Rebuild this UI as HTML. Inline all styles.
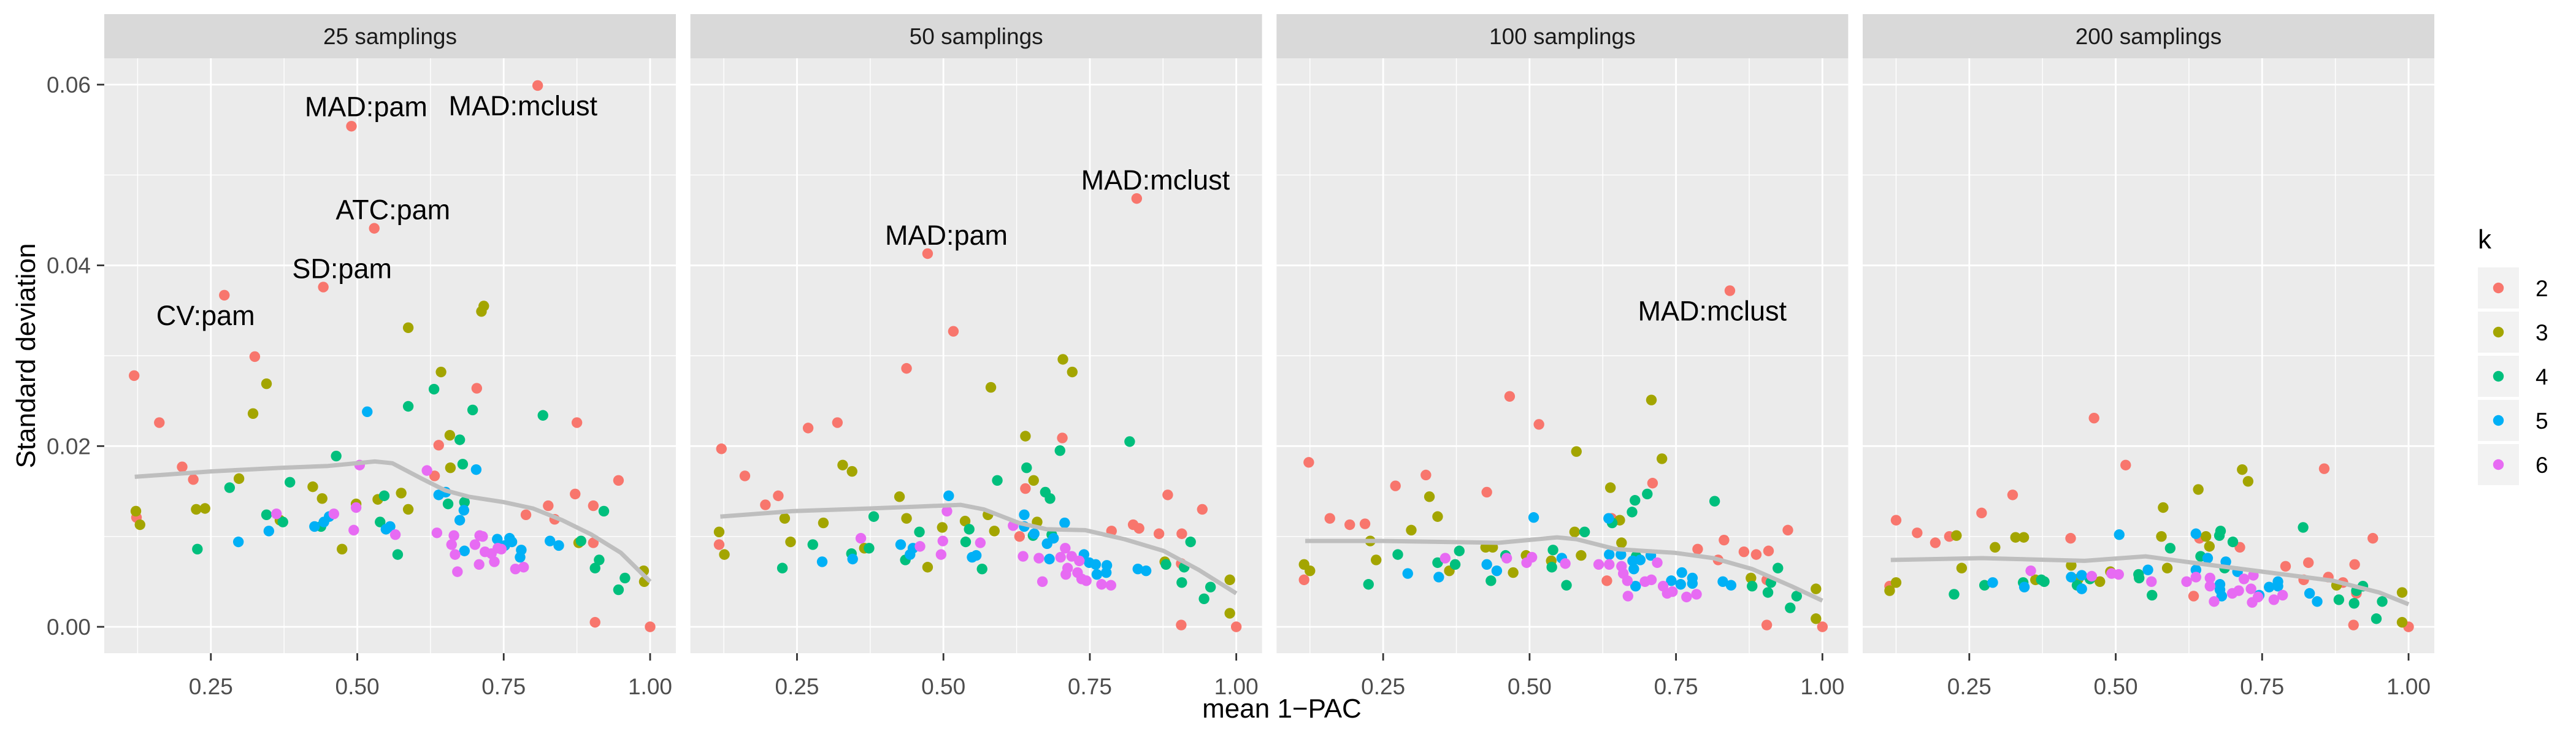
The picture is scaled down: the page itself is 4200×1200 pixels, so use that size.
<!DOCTYPE html>
<html><head><meta charset="utf-8"><title>Standard deviation vs mean 1-PAC</title>
<style>html,body{margin:0;padding:0;background:#fff}svg{display:block;font-family:"Liberation Sans",Arial,sans-serif}</style>
</head><body>
<svg id="chart" width="4200" height="1200" viewBox="0 0 4200 1200" xmlns="http://www.w3.org/2000/svg"></svg>
<script>
// ---- data (y values in units of 0.001) ----
const panelTitles = ["25 samplings","50 samplings","100 samplings","200 samplings"];
const kLevels = ["2","3","4","5","6"];
const kColors = ["#F8766D","#A3A500","#00BF7D","#00B0F6","#E76BF3"];
const xTicks = [0.25,0.5,0.75,1.0];
const xTickLabels = ["0.25","0.50","0.75","1.00"];
const yTicks = [0,0.02,0.04,0.06];
const yTickLabels = ["0.00","0.02","0.04","0.06"];

// panel 1: 25 samplings
const p1k2x=[0.119,0.162,0.201,0.220,0.273,0.325,0.442,0.490,0.529,0.808,0.639,0.632,0.704,0.875,0.788,0.826,0.837,0.872,0.903,0.903,0.946,0.906,1.0,0.123];
const p1k2y=[27.8,22.6,17.7,16.3,36.7,29.9,37.6,55.4,44.1,59.9,20.1,16.7,26.4,22.6,12.4,13.4,11.9,14.7,13.4,9.3,16.2,0.5,0,12.1];
const p1k3x=[0.122,0.129,0.225,0.240,0.298,0.322,0.345,0.368,0.424,0.440,0.474,0.498,0.535,0.575,0.587,0.587,0.643,0.658,0.659,0.712,0.716,0.878,0.989,0.990];
const p1k3y=[12.8,11.3,13.0,13.1,16.4,23.6,26.9,11.8,15.5,14.2,8.6,13.6,14.1,14.8,13.0,33.1,28.2,21.2,17.6,34.9,35.5,9.3,6.2,5.0];
const p1k4x=[0.227,0.282,0.345,0.373,0.385,0.438,0.464,0.539,0.546,0.569,0.587,0.631,0.655,0.675,0.680,0.683,0.697,0.817,0.882,0.906,0.913,0.921,0.946,0.957];
const p1k4y=[8.6,15.4,12.4,11.6,16.0,11.1,18.9,11.6,14.5,8.0,24.4,26.3,13.6,20.7,18.0,13.8,24.0,23.4,9.5,6.5,7.4,12.8,4.1,5.4];
const p1k5x=[0.297,0.349,0.427,0.443,0.452,0.517,0.549,0.556,0.639,0.651,0.675,0.682,0.683,0.703,0.739,0.752,0.760,0.764,0.780,0.778,0.829,0.844];
const p1k5y=[9.4,10.6,11.1,11.6,12.2,23.8,10.8,11.1,14.6,14.9,11.8,12.9,8.4,17.4,9.7,9.0,9.8,9.4,8.5,7.7,9.5,9.0];
const p1k6x=[0.362,0.460,0.494,0.498,0.504,0.565,0.619,0.636,0.661,0.665,0.667,0.671,0.701,0.708,0.709,0.714,0.718,0.729,0.734,0.740,0.746,0.770,0.784];
const p1k6y=[12.5,12.5,10.7,13.2,17.9,10.2,17.3,10.4,9.1,10.1,8.0,6.1,9.1,6.9,10.1,10.0,8.3,8.1,7.2,8.7,8.6,6.4,6.6];
const p1smoothX=[0.12,0.25,0.37,0.45,0.53,0.56,0.61,0.65,0.69,0.75,0.80,0.85,0.90,0.95,1.0];
const p1smoothY=[16.6,17.2,17.6,17.8,18.3,18.1,16.4,15.1,14.4,13.8,13.1,11.8,10.2,8.2,5.0];
const p1labels=["MAD:pam","MAD:mclust","ATC:pam","SD:pam","CV:pam"];
const p1labelX=[0.515,0.783,0.561,0.474,0.241];
const p1labelY=[56.5,56.6,45.1,38.6,33.4];

// panel 2: 50 samplings
const p2k2x=[0.121,0.161,0.196,0.218,0.269,0.319,0.437,0.473,0.517,0.830,0.640,0.630,0.703,0.787,0.824,0.834,0.868,0.883,0.907,0.942,0.906,0.906,1.0,0.117];
const p2k2y=[19.7,16.7,13.5,14.5,22.0,22.6,28.6,41.3,32.7,47.4,15.3,10.0,20.9,10.6,11.3,10.9,10.3,14.6,10.3,13.0,7.0,0.2,0,9.1];
const p2k3x=[0.117,0.126,0.229,0.239,0.295,0.328,0.344,0.365,0.425,0.437,0.473,0.498,0.537,0.576,0.587,0.581,0.640,0.654,0.660,0.704,0.720,0.878,0.989,0.989];
const p2k3y=[10.5,8.0,12.0,9.4,11.5,17.9,17.2,8.7,14.4,12.0,6.6,11.0,11.7,12.4,10.6,26.5,21.1,16.2,11.6,29.6,28.2,7.2,5.2,1.5];
const p2k4x=[0.225,0.277,0.343,0.373,0.381,0.435,0.459,0.538,0.544,0.566,0.592,0.642,0.653,0.674,0.682,0.685,0.699,0.818,0.880,0.907,0.911,0.922,0.945,0.956];
const p2k4y=[6.5,9.1,8.1,8.7,12.2,7.4,10.5,9.4,10.8,6.4,16.2,17.6,10.1,14.9,14.2,10.2,19.5,20.5,6.9,4.9,6.6,9.4,3.1,4.4];
const p2k5x=[0.293,0.345,0.427,0.443,0.448,0.509,0.549,0.556,0.638,0.638,0.655,0.677,0.681,0.688,0.707,0.740,0.749,0.760,0.762,0.778,0.779,0.832,0.846];
const p2k5y=[7.2,7.5,9.1,8.0,8.7,14.5,7.7,7.9,12.4,11.1,10.3,9.2,7.5,9.8,11.5,8.0,7.1,6.9,5.8,6.0,6.8,6.4,6.2];
const p2k6x=[0.359,0.460,0.496,0.499,0.506,0.563,0.619,0.636,0.663,0.669,0.700,0.708,0.709,0.712,0.719,0.729,0.732,0.736,0.744,0.770,0.786];
const p2k6y=[9.8,8.9,8.0,9.5,12.8,9.3,11.2,7.8,7.6,5.0,7.7,8.7,5.8,6.5,7.8,6.0,7.3,5.3,5.1,4.7,4.6];
const p2smoothX=[0.119,0.242,0.375,0.455,0.529,0.569,0.629,0.676,0.742,0.809,0.876,0.936,1.0];
const p2smoothY=[12.2,12.8,13.1,13.3,13.5,13.0,11.5,10.8,10.7,9.7,8.4,6.3,3.7];
const p2labels=["MAD:mclust","MAD:pam"];
const p2labelX=[0.862,0.505];
const p2labelY=[48.4,42.3];

// panel 3: 100 samplings
const p3k2x=[0.123,0.159,0.193,0.219,0.271,0.323,0.427,0.466,0.516,0.842,0.640,0.632,0.710,0.787,0.832,0.822,0.866,0.887,0.908,0.941,0.905,0.905,1.0,0.115];
const p3k2y=[18.2,12.0,11.3,11.4,15.6,16.8,14.9,25.5,22.4,37.2,12.0,5.1,15.9,8.6,9.6,7.4,8.3,8.0,8.4,10.7,5.2,0.2,0,5.2];
const p3k3x=[0.115,0.125,0.228,0.238,0.298,0.329,0.343,0.363,0.425,0.437,0.472,0.494,0.537,0.577,0.588,0.580,0.638,0.654,0.657,0.708,0.726,0.878,0.989,0.989];
const p3k3y=[6.9,6.2,9.5,7.4,10.7,14.4,12.2,6.2,8.8,8.8,6.0,7.9,7.3,10.5,7.9,19.4,15.4,11.8,9.3,25.1,18.6,5.4,4.2,0.9];
const p3k4x=[0.225,0.275,0.343,0.373,0.380,0.434,0.459,0.538,0.540,0.563,0.594,0.641,0.675,0.680,0.682,0.701,0.816,0.880,0.907,0.912,0.924,0.945,0.956];
const p3k4y=[4.7,8.0,7.1,6.9,8.4,5.1,7.9,6.6,8.5,4.6,10.5,11.5,12.7,14.0,7.8,14.7,13.9,4.5,3.8,4.9,6.5,2.1,3.4];
const p3k5x=[0.292,0.345,0.427,0.444,0.507,0.555,0.635,0.636,0.656,0.676,0.678,0.689,0.707,0.681,0.742,0.760,0.758,0.778,0.778,0.830,0.844];
const p3k5y=[5.9,5.5,6.9,6.2,12.1,7.6,12.0,8.0,8.0,7.3,6.4,7.4,7.9,4.5,5.1,6.0,4.7,5.4,4.8,5.0,4.6];
const p3k6x=[0.356,0.461,0.495,0.504,0.561,0.618,0.636,0.657,0.660,0.667,0.668,0.697,0.708,0.718,0.728,0.735,0.744,0.768,0.785];
const p3k6y=[7.6,7.6,7.1,7.7,7.0,6.9,6.9,6.7,5.9,5.1,3.4,5.0,5.2,7.1,4.5,3.7,3.9,3.3,3.6];
const p3smoothX=[0.117,0.247,0.447,0.547,0.580,0.647,0.747,0.814,0.880,0.947,1.0];
const p3smoothY=[9.5,9.5,9.3,9.9,9.7,8.6,8.2,7.6,6.4,4.5,2.9];
const p3labels=["MAD:mclust"];
const p3labelX=[0.812];
const p3labelY=[33.9];

// panel 4: 200 samplings
const p4k2x=[0.125,0.161,0.192,0.216,0.271,0.324,0.423,0.463,0.517,0.856,0.643,0.633,0.712,0.790,0.829,0.821,0.863,0.888,0.908,0.939,0.911,0.906,1.0,0.114];
const p4k2y=[11.8,10.4,9.3,10.0,12.6,14.6,9.8,23.1,17.9,17.5,9.8,3.4,8.8,6.7,7.1,5.2,5.5,4.9,6.9,9.8,3.7,0.2,0,4.5];
const p4k3x=[0.114,0.125,0.228,0.237,0.294,0.329,0.343,0.363,0.424,0.436,0.473,0.491,0.578,0.581,0.588,0.641,0.654,0.660,0.716,0.726,0.877,0.989,0.989];
const p4k3y=[4.0,4.9,10.1,6.5,8.8,9.9,9.9,5.2,6.8,5.3,5.0,6.1,10.0,13.2,6.5,15.2,10.0,8.9,17.4,16.1,4.6,3.8,0.5];
const p4k4x=[0.224,0.276,0.342,0.373,0.378,0.434,0.456,0.539,0.540,0.562,0.593,0.645,0.677,0.679,0.686,0.700,0.820,0.881,0.907,0.911,0.922,0.945,0.955];
const p4k4y=[3.6,4.6,4.9,5.2,5.0,4.6,5.3,5.8,5.4,3.5,8.7,7.8,10.1,10.6,6.5,9.4,11.0,3.0,2.6,4.0,4.5,0.9,2.8];
const p4k5x=[0.290,0.344,0.424,0.442,0.442,0.506,0.555,0.637,0.637,0.657,0.678,0.678,0.681,0.688,0.708,0.745,0.762,0.777,0.777,0.831,0.844];
const p4k5y=[4.9,4.4,5.5,5.7,4.2,10.2,6.3,10.3,6.3,7.6,4.7,4.1,3.4,7.2,6.1,3.5,4.4,5.0,4.5,3.7,2.8];
const p4k6x=[0.355,0.459,0.493,0.505,0.561,0.621,0.637,0.661,0.661,0.668,0.699,0.710,0.719,0.735,0.731,0.733,0.743,0.770,0.785];
const p4k6y=[6.2,5.6,5.9,5.8,5.0,5.0,5.5,5.4,4.5,2.8,3.7,4.0,5.3,5.7,4.2,2.7,3.3,3.0,3.5];
const p4smoothX=[0.116,0.272,0.447,0.551,0.631,0.751,0.871,0.950,1.0];
const p4smoothY=[7.4,7.6,7.3,7.8,7.1,6.1,5.1,3.8,2.5];
const p4labels=[];
const p4labelX=[];
const p4labelY=[];

const panels=[
 {xs:[p1k2x,p1k3x,p1k4x,p1k5x,p1k6x],ys:[p1k2y,p1k3y,p1k4y,p1k5y,p1k6y],sx:p1smoothX,sy:p1smoothY,lt:p1labels,lx:p1labelX,ly:p1labelY},
 {xs:[p2k2x,p2k3x,p2k4x,p2k5x,p2k6x],ys:[p2k2y,p2k3y,p2k4y,p2k5y,p2k6y],sx:p2smoothX,sy:p2smoothY,lt:p2labels,lx:p2labelX,ly:p2labelY},
 {xs:[p3k2x,p3k3x,p3k4x,p3k5x,p3k6x],ys:[p3k2y,p3k3y,p3k4y,p3k5y,p3k6y],sx:p3smoothX,sy:p3smoothY,lt:p3labels,lx:p3labelX,ly:p3labelY},
 {xs:[p4k2x,p4k3x,p4k4x,p4k5x,p4k6x],ys:[p4k2y,p4k3y,p4k4y,p4k5y,p4k6y],sx:p4smoothX,sy:p4smoothY,lt:p4labels,lx:p4labelX,ly:p4labelY}
];

// ---- layout ----
const NS="http://www.w3.org/2000/svg";
const svg=document.getElementById('chart');
const PW=932, PTOP=95, PBOT=1065, STRIP_TOP=23;
const panelLeft=i=>170+i*955.67;
const XMIN=0.068, XMAX=1.044;
const xScale=(i,v)=>panelLeft(i)+(v-XMIN)/(XMAX-XMIN)*PW;
const yScale=v=>1022-v/0.06*884;
function mk(tag,attrs,parent){const e=document.createElementNS(NS,tag);for(const k in attrs)e.setAttribute(k,attrs[k]);(parent||svg).appendChild(e);return e;}

mk('rect',{x:0,y:0,width:4200,height:1200,fill:'#ffffff'});

panels.forEach((p,i)=>{
  const L=panelLeft(i);
  const g=mk('g',{});
  
  
  const strip=mk('rect',{x:L,y:STRIP_TOP,width:PW,height:PTOP-STRIP_TOP,fill:'#d9d9d9'},g);
  
  
  const st=mk('text',{x:L+PW/2,y:72,'text-anchor':'middle','font-size':37,fill:'#1a1a1a'},g);
  st.textContent=panelTitles[i];
  
  
  const bg=mk('rect',{x:L,y:PTOP,width:PW,height:PBOT-PTOP,fill:'#ebebeb'},g);
  
  
  [0.01,0.03,0.05].forEach(v=>{const l=mk('line',{x1:L,x2:L+PW,y1:yScale(v),y2:yScale(v),stroke:'#fff','stroke-width':1.4},g);});
  [0.125,0.375,0.625,0.875].forEach(v=>{const l=mk('line',{x1:xScale(i,v),x2:xScale(i,v),y1:PTOP,y2:PBOT,stroke:'#fff','stroke-width':1.4},g);});
  yTicks.forEach(v=>{const l=mk('line',{x1:L,x2:L+PW,y1:yScale(v),y2:yScale(v),stroke:'#fff','stroke-width':2.8},g);});
  xTicks.forEach((v,j)=>{
    const x=xScale(i,v);
    const l=mk('line',{x1:x,x2:x,y1:PTOP,y2:PBOT,stroke:'#fff','stroke-width':2.8},g);
    
    
    const t=mk('line',{x1:x,x2:x,y1:PBOT,y2:PBOT+12,stroke:'#333','stroke-width':2.8},g);
    
    
    const tl=mk('text',{x:x,y:1132,'text-anchor':'middle','font-size':37,fill:'#4d4d4d'},g);
    tl.textContent=xTickLabels[j];
    
    
  });
  p.xs.forEach((xa,k)=>{
    xa.forEach((xv,n)=>{
      const c=mk('circle',{cx:xScale(i,xv),cy:yScale(p.ys[k][n]/1000),r:8.7,fill:kColors[k]},g);
      
      
    });
  });
  const d=p.sx.map((xv,n)=>(n?'L':'M')+xScale(i,xv).toFixed(1)+','+yScale(p.sy[n]/1000).toFixed(1)).join(' ');
  const sm=mk('path',{d:d,fill:'none',stroke:'#bebebe','stroke-width':7,'stroke-linejoin':'round','stroke-linecap':'butt'},g);
  
  
  p.lt.forEach((txt,n)=>{
    const t=mk('text',{x:xScale(i,p.lx[n]),y:yScale(p.ly[n]/1000),'text-anchor':'middle','font-size':45,fill:'#000'},g);
    t.textContent=txt;
    
    
  });
});

yTicks.forEach((v,j)=>{
  const t=mk('line',{x1:158,x2:170,y1:yScale(v),y2:yScale(v),stroke:'#333','stroke-width':2.8});
  
  
  const tl=mk('text',{x:148,y:yScale(v)+13,'text-anchor':'end','font-size':37,fill:'#4d4d4d'});
  tl.textContent=yTickLabels[j];
  
  
});

const yt=mk('text',{x:0,y:0,transform:'translate(57,580) rotate(-90)','text-anchor':'middle','font-size':44,fill:'#000'});
yt.textContent='Standard deviation';


const xt=mk('text',{x:2090,y:1170,'text-anchor':'middle','font-size':44,fill:'#000'});
xt.textContent='mean 1\u2212PAC';



const lg=mk('g',{});


const lt=mk('text',{x:4040,y:405,'font-size':44,fill:'#000'},lg);
lt.textContent='k';


kLevels.forEach((lab,k)=>{
  const top=436+k*72;
  const e=mk('g',{},lg);
  
  
  mk('rect',{x:4040,y:top,width:67,height:67,fill:'#f2f2f2'},e);
  mk('circle',{cx:4073.5,cy:top+33.5,r:8.7,fill:kColors[k]},e);
  const t=mk('text',{x:4134,y:top+47,'font-size':37,fill:'#000'},e);
  t.textContent=lab;
});
</script>
</body></html>
